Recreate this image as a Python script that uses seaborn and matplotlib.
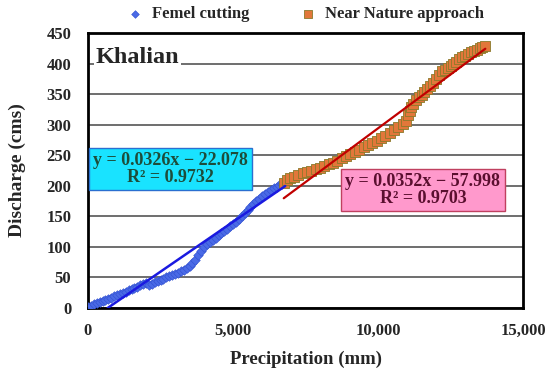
import numpy as np
import pandas as pd
import matplotlib
matplotlib.use("Agg")
import matplotlib.pyplot as plt
import seaborn as sns

# Femel cutting (blue diamonds)
femel_x = [0, 100, 200, 300, 400, 500, 600, 700, 800, 900, 1000, 1100, 1200,
           1300, 1400, 1500, 1600, 1700, 1800, 1900, 2000, 2100, 2200, 2300,
           2400, 2500, 2600, 2700, 2800, 2900, 3000, 3100, 3200, 3300, 3400,
           3500, 3600, 3700, 3800, 3900, 4000, 4100, 4200, 4300, 4400, 4500,
           4600, 4700, 4800, 4900, 5000, 5100, 5200, 5300, 5400, 5500, 5600,
           5700, 5800, 5900, 6000, 6100, 6200, 6300, 6400, 6500, 6600, 6700,
           6800]
femel_y = [2, 4, 6, 8, 10, 12, 13, 15, 17, 19, 21, 23, 25,
           27, 29, 31, 33, 35, 37, 40, 41, 38, 40, 42,
           44, 46, 48, 50, 52, 54, 56, 58, 60, 62, 65,
           69, 73, 79, 86, 94, 100, 104, 108, 111, 115, 119,
           122, 126, 130, 134, 137, 141, 145, 150, 155, 161, 166,
           170, 175, 179, 183, 187, 190, 193, 196, 198, 201, 203,
           205]

# Near Nature approach (orange squares)
nature_x = [6750, 6850, 6950, 7100, 7250, 7400, 7550, 7700, 7850, 8000, 8150,
            8300, 8450, 8600, 8750, 8900, 9050, 9200, 9350, 9500, 9650, 9800,
            9950, 10100, 10250, 10400, 10550, 10700, 10850, 10950, 11050,
            11100, 11150, 11200, 11300, 11400, 11500, 11600, 11700, 11800,
            11900, 12000, 12100, 12200, 12300, 12400, 12500, 12600, 12700,
            12800, 12900, 13000, 13100, 13200, 13300, 13400, 13500, 13600,
            13700]
nature_y = [205, 209, 212, 215, 218, 221, 223, 225, 227, 229, 232,
            235, 238, 241, 245, 249, 252, 255, 259, 263, 267, 270,
            274, 278, 282, 287, 292, 296, 301, 306, 315,
            322, 329, 334, 340, 345, 348, 353, 358, 363,
            368, 375, 382, 387, 390, 393, 396, 400, 403,
            407, 410, 413, 416, 419, 421, 423, 425, 427,
            429]

# linear trendlines as reported on the chart
femel_fit = (0.0326, -22.078, 0.9732)
nature_fit = (0.0352, -57.998, 0.9703)

sns.set_style("white")
plt.rcParams['font.family'] = ['Liberation Serif', 'DejaVu Serif']
plt.rcParams['font.weight'] = 'bold'

df1 = pd.DataFrame({'x': femel_x, 'y': femel_y})
df2 = pd.DataFrame({'x': nature_x, 'y': nature_y})

fig = plt.figure(figsize=(5.5, 3.81), dpi=100)
ax = fig.add_axes([88 / 550, 1 - 308 / 381, 435 / 550, 275 / 381])

ax.set_xlim(0, 15000)
ax.set_ylim(0, 450)
ax.set_yticks(range(0, 451, 50))
ax.set_xticks([0, 5000, 10000, 15000])
ax.set_xticklabels(['0', '5,000', '10,000', '15,000'])
ax.yaxis.grid(True, color='#555555', linewidth=1.2, zorder=0)
ax.set_axisbelow(True)

sns.scatterplot(data=df1, x='x', y='y', ax=ax, marker='D', s=24,
                color='#4a6ae6', edgecolor='#3050d0', linewidth=0.4,
                label='Femel cutting', zorder=3)
sns.scatterplot(data=df2, x='x', y='y', ax=ax, marker='s', s=48,
                color='#e2773a', edgecolor='#8a7a2a', linewidth=0.6,
                label='Near Nature approach', zorder=3)

# trendlines
m, b, _ = femel_fit
x0 = -b / m
xs = np.array([x0, femel_x[-1]])
ax.plot(xs, m * xs + b, color='#1a1ae0', linewidth=1.8, zorder=4)
m, b, _ = nature_fit
xs = np.array([nature_x[0], nature_x[-1]])
ax.plot(xs, m * xs + b, color='#c00000', linewidth=1.6, zorder=4)

for s in ax.spines.values():
    s.set_color('black')
    s.set_linewidth(2)

ax.tick_params(axis='y', labelsize=12, length=0, pad=12)
ax.tick_params(axis='x', labelsize=12, length=0, pad=11)
for lab in ax.get_xticklabels() + ax.get_yticklabels():
    lab.set_fontweight('bold')

ax.set_xlabel('Precipitation (mm)', fontsize=13.5, fontweight='bold', labelpad=8)
ax.set_ylabel('Discharge (cms)', fontsize=14, fontweight='bold', labelpad=15)

ax.text(0.018, 0.95, 'Khalian', transform=ax.transAxes, fontsize=17.5,
        fontweight='bold', va='top', ha='left', zorder=5,
        bbox=dict(facecolor='white', edgecolor='none', pad=1))

m, b, r2 = femel_fit
ax.text(0.19, 0.505, f'y = {m}x \u2212 {abs(b)}\nR\u00b2 = {r2}',
        transform=ax.transAxes, fontsize=13, fontweight='bold', color='#1d4d3a',
        ha='center', va='center', linespacing=1.0, zorder=6,
        bbox=dict(facecolor='#19e3ff', edgecolor='#2a6fd0', pad=3, linewidth=1))
m, b, r2 = nature_fit
ax.text(0.77, 0.43, f'y = {m}x \u2212 {abs(b)}\nR\u00b2 = {r2}',
        transform=ax.transAxes, fontsize=13, fontweight='bold', color='#5a0f2f',
        ha='center', va='center', linespacing=1.0, zorder=6,
        bbox=dict(facecolor='#ff99cc', edgecolor='#c04060', pad=3, linewidth=1))

ax.legend(loc='lower center', bbox_to_anchor=(0.49, 1.015), ncol=2, frameon=False,
          prop={'family': 'Liberation Serif', 'weight': 'bold', 'style': 'normal',
                'size': 12},
          handletextpad=0.0, columnspacing=2.5, markerscale=0.8, borderaxespad=0)

fig.savefig('out.png', dpi=100)
